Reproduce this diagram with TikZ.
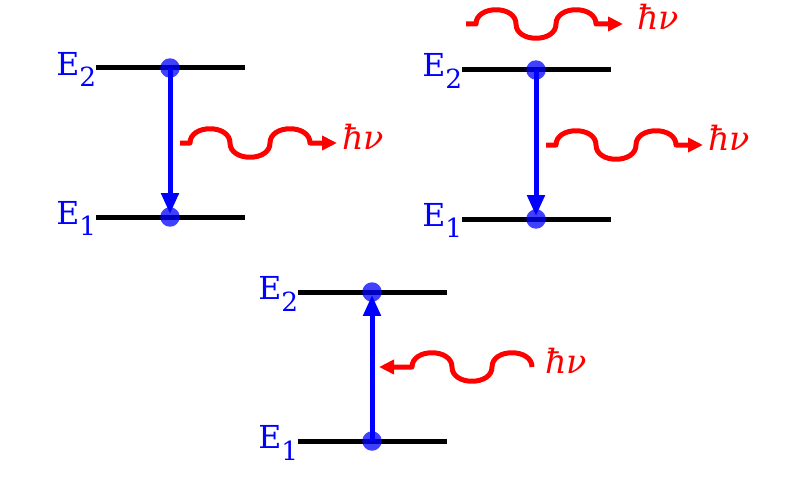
\documentclass[tikz,border=0pt]{standalone}
\usepackage{fontspec}
\setmainfont{DejaVu Serif}
\usetikzlibrary{arrows.meta}

\newcommand{\lev}[1]{E\raisebox{-0.24cm}{\fontsize{15}{17}\selectfont #1}}

\begin{document}
\begin{tikzpicture}[x=0.02cm,y=-0.02cm,
  level/.style={line width=0.1cm},
  dot/.style={circle,fill=blue,opacity=0.75,minimum size=0.39cm,inner sep=0pt},
  lbl/.style={blue,anchor=base west,inner sep=0pt,font=\fontsize{18}{21}\selectfont},
  trans/.style={blue,line width=0.1cm,shorten >=0.06cm,
    -{Triangle[length=0.42cm,width=0.34cm]}},
  photon/.style={red,line width=0.1cm,line join=round,
    -{Triangle[length=0.3cm,width=0.28cm]}},
  hv/.style={red,anchor=base west,inner sep=0pt,
    font=\fontsize{19}{22}\selectfont\itshape}]
  \useasboundingbox (0,0) rectangle (804,500);
  % three two-level schemes
  \foreach \x/\y/\n in {0/0/a, 366/2/b, 202/224/c} {
    \draw[level] (96+\x,68+\y) -- (245+\x,68+\y);
    \draw[level] (96+\x,217+\y) -- (245+\x,217+\y);
    \node[lbl] (top\n) at (56+\x,75+\y) {\lev{2}};
    \node[lbl] (bot\n) at (56+\x,224+\y) {\lev{1}};
    \node[dot] (hi\n) at (170+\x,68+\y) {};
    \node[dot] (lo\n) at (170+\x,217+\y) {};
  }
  \draw[trans] (hia.center) -- (loa.center);
  \draw[trans] (hib.center) -- (lob.center);
  \draw[trans] (loc.center) -- (hic.center);
  % photons
  \coordinate (pa) at (180,143);  \coordinate (qa) at (337,143);
  \coordinate (pb) at (466,24);   \coordinate (qb) at (623,24);
  \coordinate (pc) at (546,145);  \coordinate (qc) at (703,145);
  \coordinate (pd) at (532,367);  \coordinate (qd) at (379,367);
  \foreach \p/\q in {pa/qa, pb/qb, pc/qc}
    \draw[photon] (\p) -- ++(10,0)
      .. controls +(0,-19) and +(0,-19) .. ++(40,0)
      .. controls +(0,19) and +(0,19) .. ++(40,0)
      .. controls +(0,-19) and +(0,-19) .. ++(40,0)
      -- (\q);
  \draw[photon] (pd)
    .. controls +(0,-19) and +(0,-19) .. ++(-40,0)
    .. controls +(0,19) and +(0,19) .. ++(-40,0)
    .. controls +(0,-19) and +(0,-19) .. ++(-40,0)
    -- (qd);
  \node[hv] (hva) at (342,149) {ħν};
  \node[hv] (hvb) at (637,30) {ħν};
  \node[hv] (hvc) at (708,151) {ħν};
  \node[hv] (hvd) at (545,373) {ħν};
\end{tikzpicture}
\end{document}
